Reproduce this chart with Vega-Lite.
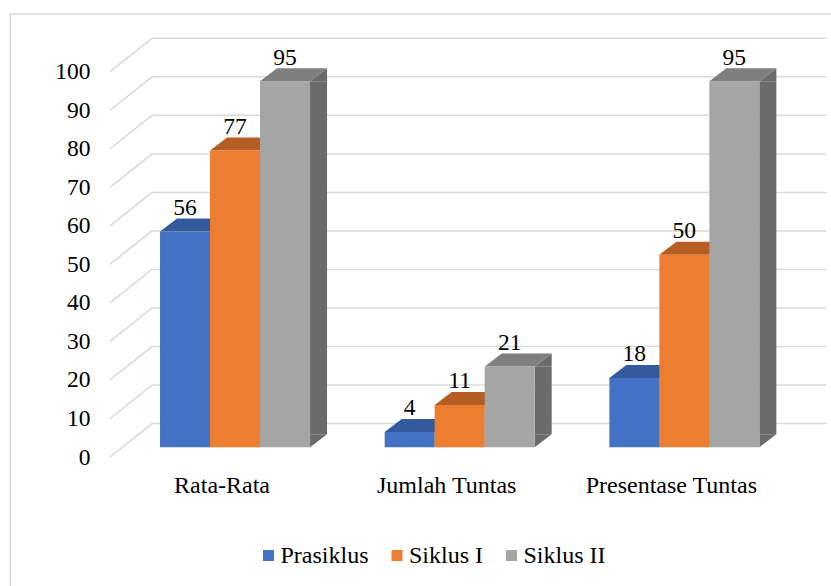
{
  "$schema": "https://vega.github.io/schema/vega-lite/v6.json",
  "width": 821.5,
  "height": 572.7,
  "autosize": "none",
  "padding": {"left": 9.5, "top": 13.3, "right": 0, "bottom": 0},
  "background": "white",
  "config": {"view": {"stroke": null}, "font": "Liberation Serif, Times New Roman, serif"},
  "datasets": {
    "bars": [
      {"Category": "Rata-Rata", "Series": "Prasiklus", "value": 56},
      {"Category": "Rata-Rata", "Series": "Siklus I", "value": 77},
      {"Category": "Rata-Rata", "Series": "Siklus II", "value": 95},
      {"Category": "Jumlah Tuntas", "Series": "Prasiklus", "value": 4},
      {"Category": "Jumlah Tuntas", "Series": "Siklus I", "value": 11},
      {"Category": "Jumlah Tuntas", "Series": "Siklus II", "value": 21},
      {"Category": "Presentase Tuntas", "Series": "Prasiklus", "value": 18},
      {"Category": "Presentase Tuntas", "Series": "Siklus I", "value": 50},
      {"Category": "Presentase Tuntas", "Series": "Siklus II", "value": 95}
    ],
    "grid": [
      {"v": 0}, {"v": 10}, {"v": 20}, {"v": 30}, {"v": 40}, {"v": 50},
      {"v": 60}, {"v": 70}, {"v": 80}, {"v": 90}, {"v": 100}
    ]
  },
  "resolve": {"scale": {"xOffset": "independent"}},
  "layer": [
    {
      "data": {"values": [{"frame": 1}]},
      "mark": {"type": "rect", "fill": "transparent", "stroke": "#d9d9d9", "strokeWidth": 3, "clip": true},
      "encoding": {"x": {"value": 0}, "y": {"value": 0}, "x2": {"value": 850}, "y2": {"value": 620}}
    },
    {
      "data": {"name": "grid"},
      "mark": {"type": "rule", "color": "#d9d9d9", "strokeWidth": 1.5, "yOffset": -23.7},
      "encoding": {
        "x": {"value": 142.5},
        "x2": {"value": 816.5},
        "y": {
          "field": "v", "type": "quantitative",
          "scale": {"domain": [0, 100], "range": [434.0, 48.7], "nice": false, "zero": true},
          "axis": {"title": null, "values": [0, 10, 20, 30, 40, 50, 60, 70, 80, 90, 100], "domain": false, "ticks": false, "tickSize": 0, "grid": false, "labelFont": "Liberation Serif, Times New Roman, serif", "labelFontSize": 23.5, "labelColor": "#000000", "labelPadding": 0, "offset": -80.5, "labelOffset": 9.7}
        }
      }
    },
    {
      "data": {"name": "grid"},
      "mark": {"type": "rule", "color": "#d9d9d9", "strokeWidth": 1.5, "yOffset": 9.7, "y2Offset": -23.7},
      "encoding": {
        "x": {"value": 100.5},
        "x2": {"value": 142.5},
        "y": {"field": "v", "type": "quantitative"},
        "y2": {"field": "v"}
      }
    },
    {
      "data": {"name": "bars"},
      "mark": {"type": "rule", "color": "#6b6b6b", "strokeWidth": 17, "strokeCap": "butt", "y2Offset": -13},
      "encoding": {
        "x": {"field": "Category", "type": "nominal", "sort": null},
        "xOffset": {"field": "Series", "type": "nominal", "sort": null, "scale": {"type": "band", "domain": ["Prasiklus", "Siklus I", "Siklus II"], "range": [33.5, 183.5], "paddingInner": 0, "paddingOuter": 0}},
        "y": {"field": "value", "type": "quantitative"},
        "y2": {"datum": 0}
      }
    },
    {
      "data": {"name": "bars"},
      "mark": {"type": "point", "shape": "M 25 0 L 42 -13 L 42 0 Z", "size": 4, "filled": true, "opacity": 1, "strokeWidth": 0, "color": "#6b6b6b"},
      "encoding": {
        "x": {"field": "Category", "type": "nominal", "sort": null},
        "xOffset": {"field": "Series", "type": "nominal", "sort": null, "scale": {"type": "band", "domain": ["Prasiklus", "Siklus I", "Siklus II"], "paddingInner": 0, "paddingOuter": 0}},
        "y": {"field": "value", "type": "quantitative"}
      }
    },
    {
      "data": {"name": "bars"},
      "mark": {"type": "point", "shape": "M 25 -13 L 42 -13 L 25 0 Z", "size": 4, "filled": true, "opacity": 1, "strokeWidth": 0, "color": "#6b6b6b"},
      "encoding": {
        "x": {"field": "Category", "type": "nominal", "sort": null},
        "xOffset": {"field": "Series", "type": "nominal", "sort": null, "scale": {"type": "band", "domain": ["Prasiklus", "Siklus I", "Siklus II"], "paddingInner": 0, "paddingOuter": 0}},
        "y": {"datum": 0}
      }
    },
    {
      "data": {"name": "bars"},
      "mark": {"type": "point", "shape": "M -25 0 L 25 0 L 42 -13 L -8 -13 Z", "size": 4, "filled": true, "opacity": 1, "strokeWidth": 0},
      "encoding": {
        "x": {"field": "Category", "type": "nominal", "sort": null},
        "xOffset": {"field": "Series", "type": "nominal", "sort": null, "scale": {"type": "band", "domain": ["Prasiklus", "Siklus I", "Siklus II"], "paddingInner": 0, "paddingOuter": 0}},
        "y": {"field": "value", "type": "quantitative"},
        "fill": {"condition": [{"test": "datum.Series === 'Prasiklus'", "value": "#325A9C"}, {"test": "datum.Series === 'Siklus I'", "value": "#B55D22"}], "value": "#7F7F7F"}
      }
    },
    {
      "data": {"name": "bars"},
      "mark": {"type": "bar"},
      "encoding": {
        "x": {
          "field": "Category", "type": "nominal", "sort": null,
          "scale": {"domain": ["Rata-Rata", "Jumlah Tuntas", "Presentase Tuntas"], "range": [113.2, 787.2], "paddingInner": 0.3323, "paddingOuter": 0.16615},
          "axis": {"title": null, "orient": "bottom", "domain": false, "ticks": false, "tickSize": 0, "grid": false, "labelAngle": 0, "labelAlign": "center", "labelFont": "Liberation Serif, Times New Roman, serif", "labelFontSize": 24, "labelColor": "#000000", "labelBaseline": "alphabetic", "labelPadding": 0, "offset": -94, "labelOffset": -13, "labelLimit": 400}
        },
        "xOffset": {"field": "Series", "type": "nominal", "sort": null, "scale": {"type": "band", "domain": ["Prasiklus", "Siklus I", "Siklus II"], "paddingInner": 0, "paddingOuter": 0}},
        "y": {"field": "value", "type": "quantitative"},
        "color": {
          "field": "Series", "type": "nominal",
          "scale": {"domain": ["Prasiklus", "Siklus I", "Siklus II"], "range": ["#4472C4", "#ED7D31", "#A5A5A5"]},
          "legend": {"title": null, "orient": "none", "legendX": 247, "legendY": 530.2, "direction": "horizontal", "symbolType": "square", "symbolSize": 121, "symbolStrokeWidth": 0, "labelFont": "Liberation Serif, Times New Roman, serif", "labelFontSize": 24, "labelColor": "#000000", "labelOffset": 0, "columnPadding": 15.5, "padding": 0}
        }
      }
    },
    {
      "data": {"name": "bars"},
      "mark": {"type": "text", "baseline": "alphabetic", "dy": -16.5, "font": "Liberation Serif, Times New Roman, serif", "fontSize": 23.5, "color": "#000000"},
      "encoding": {
        "x": {"field": "Category", "type": "nominal", "sort": null},
        "xOffset": {"field": "Series", "type": "nominal", "sort": null, "scale": {"type": "band", "domain": ["Prasiklus", "Siklus I", "Siklus II"], "paddingInner": 0, "paddingOuter": 0}},
        "y": {"field": "value", "type": "quantitative"},
        "text": {"field": "value", "type": "quantitative"}
      }
    }
  ]
}
